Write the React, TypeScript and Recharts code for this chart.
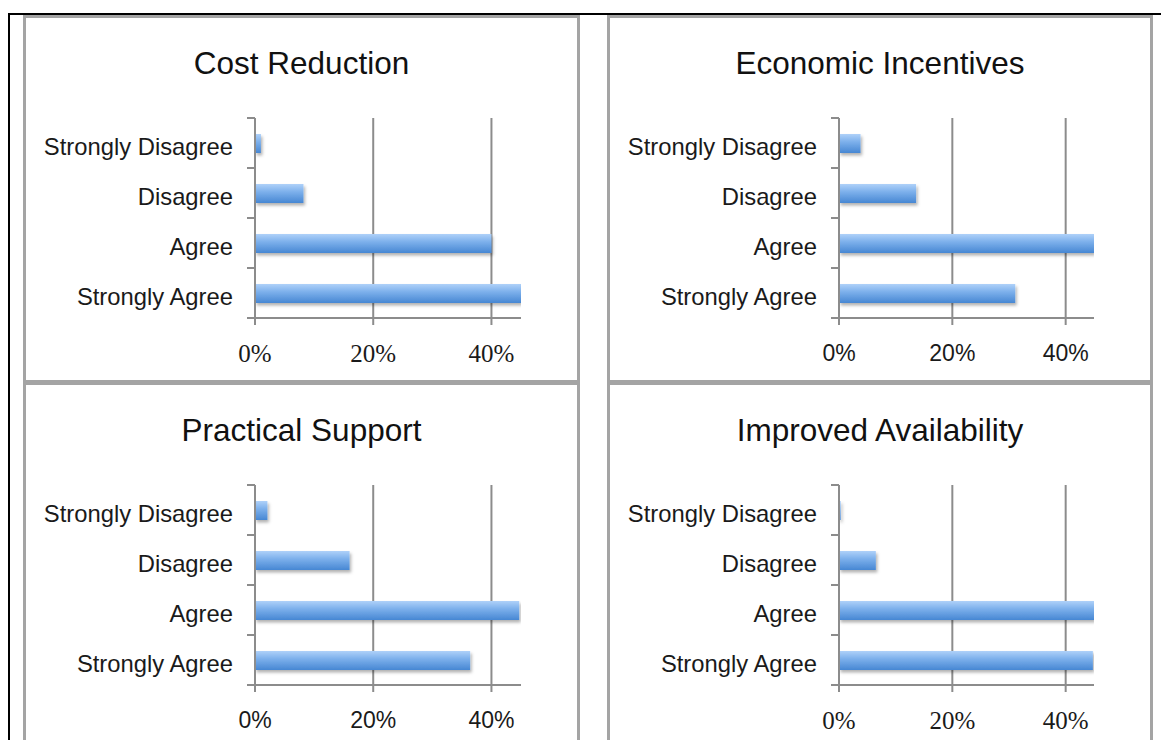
import { BarChart, Bar, XAxis, YAxis, CartesianGrid } from "recharts"

const categories = ["Strongly Disagree", "Disagree", "Agree", "Strongly Agree"]

// share of answers per category, same order as categories
const costReduction = [0.01, 0.082, 0.4, 0.45]
const economicIncentives = [0.038, 0.136, 0.45, 0.311]
const practicalSupport = [0.021, 0.16, 0.447, 0.364]
const improvedAvailability = [0.003, 0.065, 0.45, 0.448]

const xTicks = [0, 0.2, 0.4]
const xMax = 0.45

const SANS = '"Liberation Sans", Arial, Helvetica, sans-serif'
const SERIF = '"Liberation Serif", "Times New Roman", serif'
const GRID = "#8c8c8c"
const BORDER = "#a4a4a4"
const TEXT = "#1a1a1a"

const AXIS_W = 232
const PLOT_H = 200
const BAND = PLOT_H / categories.length
const TICK = 8
const GAP = 14

const panels = [
  { title: "Cost Reduction", values: costReduction, left: 23, top: 15, width: 557, height: 368, plotW: 266, serif: true },
  { title: "Economic Incentives", values: economicIncentives, left: 607, top: 15, width: 546, height: 368, plotW: 255, serif: false },
  { title: "Practical Support", values: practicalSupport, left: 23, top: 382, width: 557, height: 372, plotW: 266, serif: false },
  { title: "Improved Availability", values: improvedAvailability, left: 607, top: 382, width: 546, height: 372, plotW: 255, serif: true },
]

function CategoryTick(props: any) {
  const { x, y, payload, index } = props
  const axisX = x + GAP + TICK
  const top = y - BAND / 2
  const bottom = y + BAND / 2
  return (
    <g>
      <text x={x} y={y + 11.5} textAnchor="end" fontSize={23.8} fill={TEXT} fontFamily={SANS}>
        {payload.value}
      </text>
      <line x1={axisX - TICK} x2={axisX} y1={top} y2={top} stroke={GRID} strokeWidth={2} />
      {index === categories.length - 1 && (
        <line x1={axisX - TICK} x2={axisX} y1={bottom} y2={bottom} stroke={GRID} strokeWidth={2} />
      )}
    </g>
  )
}

function ShadedBar(props: any) {
  const { x, y, width, height, uid } = props
  if (!width || width <= 0) return null
  return (
    <rect
      x={x}
      y={y}
      width={width}
      height={height}
      fill={`url(#barGrad-${uid})`}
      filter={`url(#barShadow-${uid})`}
    />
  )
}

function Panel({ panel, uid }: { panel: (typeof panels)[number]; uid: number }) {
  const data = categories.map((label, k) => ({ label, value: panel.values[k] }))
  const chartW = AXIS_W + panel.plotW + 10
  return (
    <>
      <div
        style={{
          position: "absolute",
          left: panel.left,
          top: panel.top,
          width: panel.width,
          height: panel.height,
          boxSizing: "border-box",
          border: `3px solid ${BORDER}`,
        }}
      />
      <div
        style={{
          position: "absolute",
          left: panel.left,
          top: panel.top + 33,
          width: panel.width,
          textAlign: "center",
          fontSize: 31.5,
          lineHeight: 1,
          color: "#111",
          fontFamily: SANS,
        }}
      >
        {panel.title}
      </div>
      <div style={{ position: "absolute", left: panel.left, top: panel.top + 85 }}>
        <BarChart
          width={chartW}
          height={268}
          data={data}
          layout="vertical"
          margin={{ top: 18, right: 10, bottom: 0, left: 0 }}
        >
          <defs>
            <linearGradient id={`barGrad-${uid}`} x1="0" y1="0" x2="0" y2="1">
              <stop offset="0%" stopColor="#afd1f9" />
              <stop offset="40%" stopColor="#7eb1ec" />
              <stop offset="100%" stopColor="#4787d3" />
            </linearGradient>
            <filter id={`barShadow-${uid}`} filterUnits="userSpaceOnUse" x="0" y="0" width="700" height="300">
              <feDropShadow dx="1.5" dy="2.5" stdDeviation="1.8" floodColor="#000" floodOpacity="0.3" />
            </filter>
          </defs>
          <CartesianGrid horizontal={false} syncWithTicks stroke={GRID} strokeWidth={2} />
          <Bar
            dataKey="value"
            barSize={19}
            isAnimationActive={false}
            shape={(p: any) => <ShadedBar {...p} uid={uid} />}
          />
          <XAxis
            type="number"
            domain={[0, xMax]}
            ticks={xTicks}
            allowDataOverflow
            height={50}
            tickFormatter={(v: number) => `${Math.round(v * 100)}%`}
            tickSize={7}
            tickMargin={panel.serif ? 19 : 20}
            axisLine={{ stroke: GRID, strokeWidth: 2 }}
            tickLine={{ stroke: GRID, strokeWidth: 2 }}
            tick={{
              fill: TEXT,
              fontSize: panel.serif ? 25 : 23,
              fontFamily: panel.serif ? SERIF : SANS,
            }}
          />
          <YAxis
            type="category"
            dataKey="label"
            width={AXIS_W}
            tickSize={TICK}
            tickMargin={GAP}
            tickLine={false}
            axisLine={{ stroke: GRID, strokeWidth: 2 }}
            tick={<CategoryTick />}
            interval={0}
          />
        </BarChart>
      </div>
    </>
  )
}

export default function App() {
  return (
    <div
      style={{
        position: "absolute",
        left: 0,
        top: 0,
        width: 1161,
        height: 740,
        background: "#fff",
        overflow: "hidden",
      }}
    >
      <div style={{ position: "absolute", left: 8, top: 13, width: 1153, height: 2, background: "#000" }} />
      <div style={{ position: "absolute", left: 8, top: 13, width: 2, height: 727, background: "#000" }} />
      {panels.map((p, i) => (
        <Panel key={p.title} panel={p} uid={i} />
      ))}
    </div>
  )
}
